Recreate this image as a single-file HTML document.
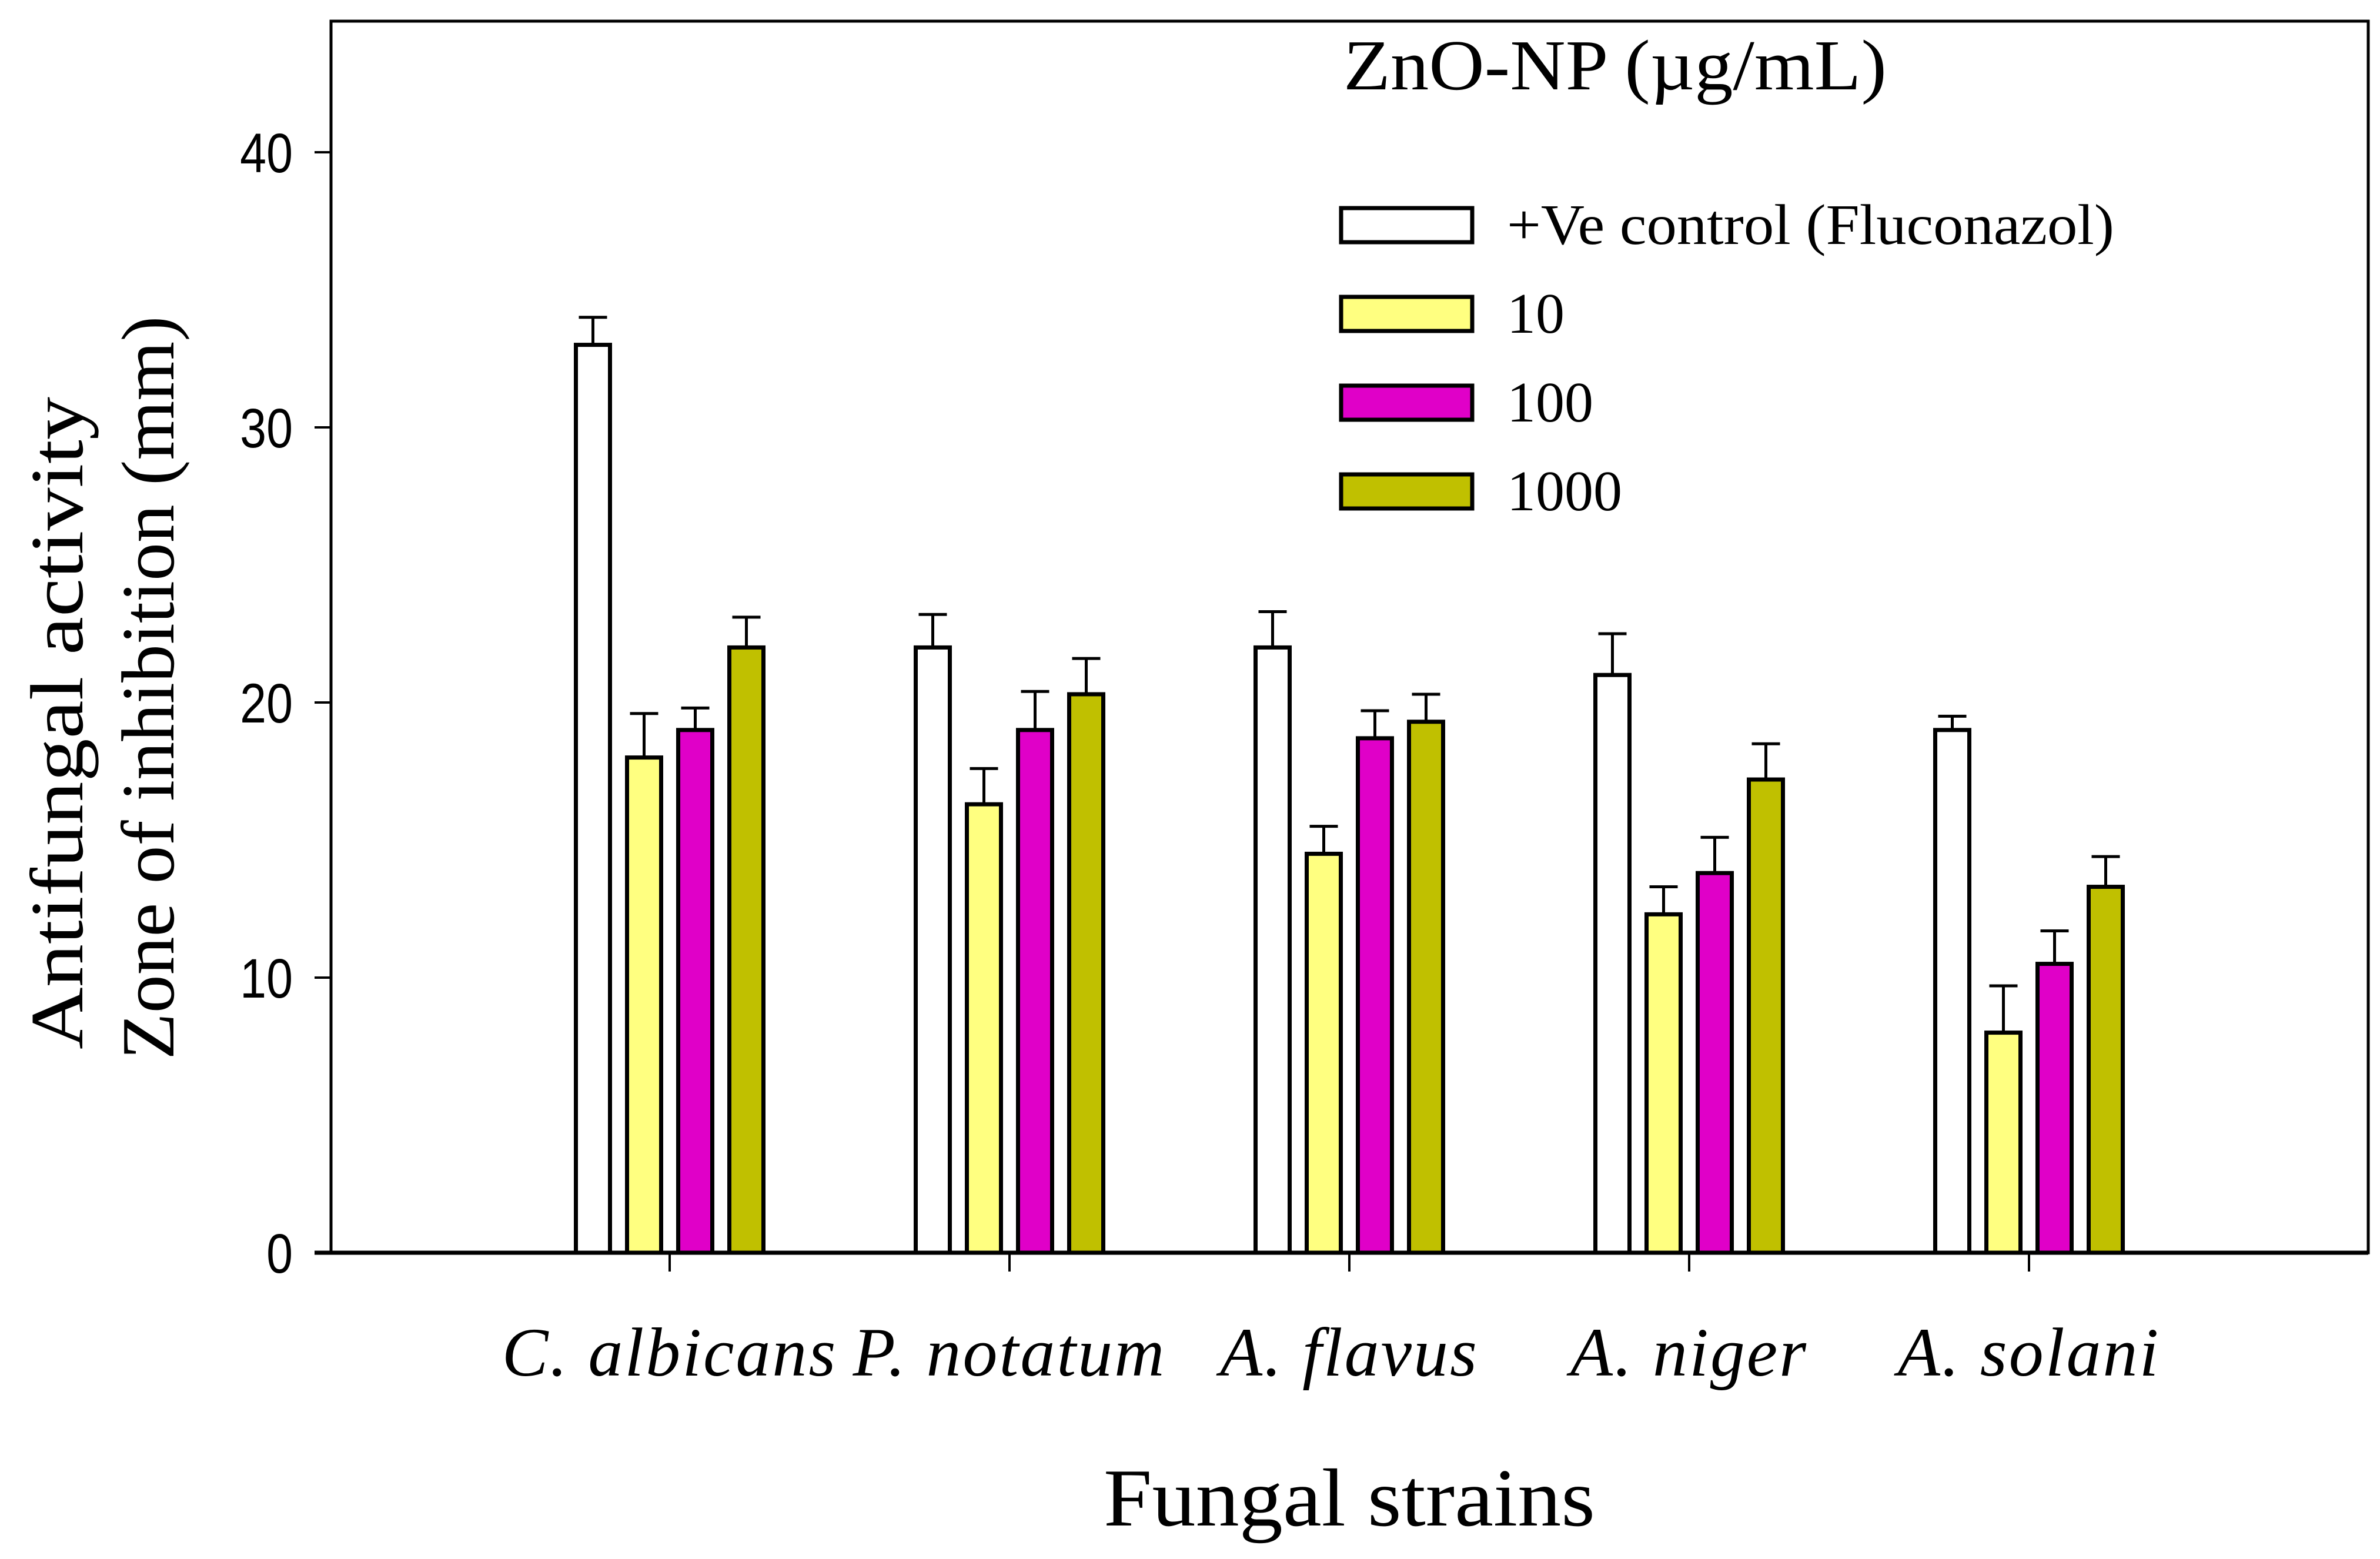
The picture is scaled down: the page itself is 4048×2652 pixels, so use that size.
<!DOCTYPE html>
<html><head><meta charset="utf-8"><style>
html,body{margin:0;padding:0;background:#fff;width:4048px;height:2652px;overflow:hidden}
svg{display:block}
</style></head><body>
<svg id="chart" width="4048" height="2652" viewBox="0 0 4048 2652" xmlns="http://www.w3.org/2000/svg">
<rect x="563" y="36" width="3465" height="2095" fill="#fff" stroke="#000" stroke-width="5"/>
<g id="bars"></g>
<g id="axes"></g>
<text x="2285" y="152" font-family="'Liberation Serif',serif" font-size="122" textLength="924" lengthAdjust="spacingAndGlyphs">ZnO-NP (µg/mL)</text>
<g id="legend"></g>
<g transform="translate(180,1200) rotate(-90)">
<text x="-30" y="-40" font-family="'Liberation Serif',serif" font-size="128" text-anchor="middle" textLength="1110" lengthAdjust="spacingAndGlyphs">Antifungal activity</text>
<text x="30" y="115" font-family="'Liberation Serif',serif" font-size="128" text-anchor="middle" textLength="1265" lengthAdjust="spacingAndGlyphs">Zone of inhibition (mm)</text>
</g>
<text x="2295" y="2595" font-family="'Liberation Serif',serif" font-size="140" text-anchor="middle" textLength="836" lengthAdjust="spacingAndGlyphs">Fungal strains</text>
</svg>
<script>
const categories = ["C. albicans","P. notatum","A. flavus","A. niger","A. solani"];
const seriesNames = ["+Ve control (Fluconazol)","10","100","1000"];
const control = [33, 22, 22, 21, 19];
const conc10 = [18, 16.3, 14.5, 12.3, 8];
const conc100 = [19, 19, 18.7, 13.8, 10.5];
const conc1000 = [22, 20.3, 19.3, 17.2, 13.3];
const errControl = [1.0, 1.2, 1.3, 1.5, 0.5];
const err10 = [1.6, 1.3, 1.0, 1.0, 1.7];
const err100 = [0.8, 1.4, 1.0, 1.3, 1.2];
const err1000 = [1.1, 1.3, 1.0, 1.3, 1.1];
const yTicks = [0, 10, 20, 30, 40];

const NS = "http://www.w3.org/2000/svg";
const colors = ["#ffffff","#ffff80","#e000c8","#c0c000"];
const values = [control, conc10, conc100, conc1000];
const errs = [errControl, err10, err100, err1000];
const y0 = 2131, unit = 46.8;
const yScale = v => y0 - v * unit;
const xCenter = i => 1139 + i * 578;
const barW = 58, pitch = 87;
function el(tag, attrs, parent){const e=document.createElementNS(NS,tag);for(const k in attrs)e.setAttribute(k,attrs[k]);parent.appendChild(e);return e;}
const bars = document.getElementById('bars');
const axes = document.getElementById('axes');
const legend = document.getElementById('legend');

categories.forEach((c, i) => {
  values.forEach((arr, s) => {
    const cx = xCenter(i) + (s - 1.5) * pitch;
    const top = yScale(arr[i]);
    const eTop = yScale(arr[i] + errs[s][i]);
    const ln = el('line', {x1:cx, x2:cx, y1:top, y2:eTop, stroke:'#000','stroke-width':5}, bars);
    
    
    const cap = el('line', {x1:cx-24, x2:cx+24, y1:eTop, y2:eTop, stroke:'#000','stroke-width':5}, bars);
    
    
    const r = el('rect', {x:cx-barW/2, y:top, width:barW, height:y0-top, fill:colors[s], stroke:'#000','stroke-width':7}, bars);
    
    
  });
  const t = el('line', {x1:xCenter(i), x2:xCenter(i), y1:y0, y2:y0+32, stroke:'#000','stroke-width':4}, axes);
  
  
  const lab = el('text', {x:xCenter(i), y:2340, 'font-family':"'Liberation Serif',serif", 'font-style':'italic', 'font-size':118, 'text-anchor':'middle', 'letter-spacing':3}, axes);
  lab.textContent = c;
  
  
});
const xa = el('line', {x1:535, x2:4028, y1:y0, y2:y0, stroke:'#000','stroke-width':7}, axes);


yTicks.forEach(v => {
  const y = yScale(v);
  const t = el('line', {x1:535, x2:563, y1:y, y2:y, stroke:'#000','stroke-width':4}, axes);
  
  
  const lab = el('text', {x:0, y:0, 'font-family':"'Liberation Sans',sans-serif", 'font-size':95, 'text-anchor':'end', transform:`translate(498,${y+34}) scale(0.85,1)`}, axes);
  lab.textContent = v;
  
  
});
seriesNames.forEach((n, s) => {
  const cy = 383 + s * 151;
  const r = el('rect', {x:2281, y:cy-29, width:223, height:58, fill:colors[s], stroke:'#000','stroke-width':7}, legend);
  
  
  const t = el('text', {x:2563, y:cy+32, 'font-family':"'Liberation Serif',serif", 'font-size':98}, legend);
  t.textContent = n;
  if (s === 0) { t.setAttribute('textLength', 1033); t.setAttribute('lengthAdjust', 'spacingAndGlyphs'); }
  
  
});
</script>
</body></html>
